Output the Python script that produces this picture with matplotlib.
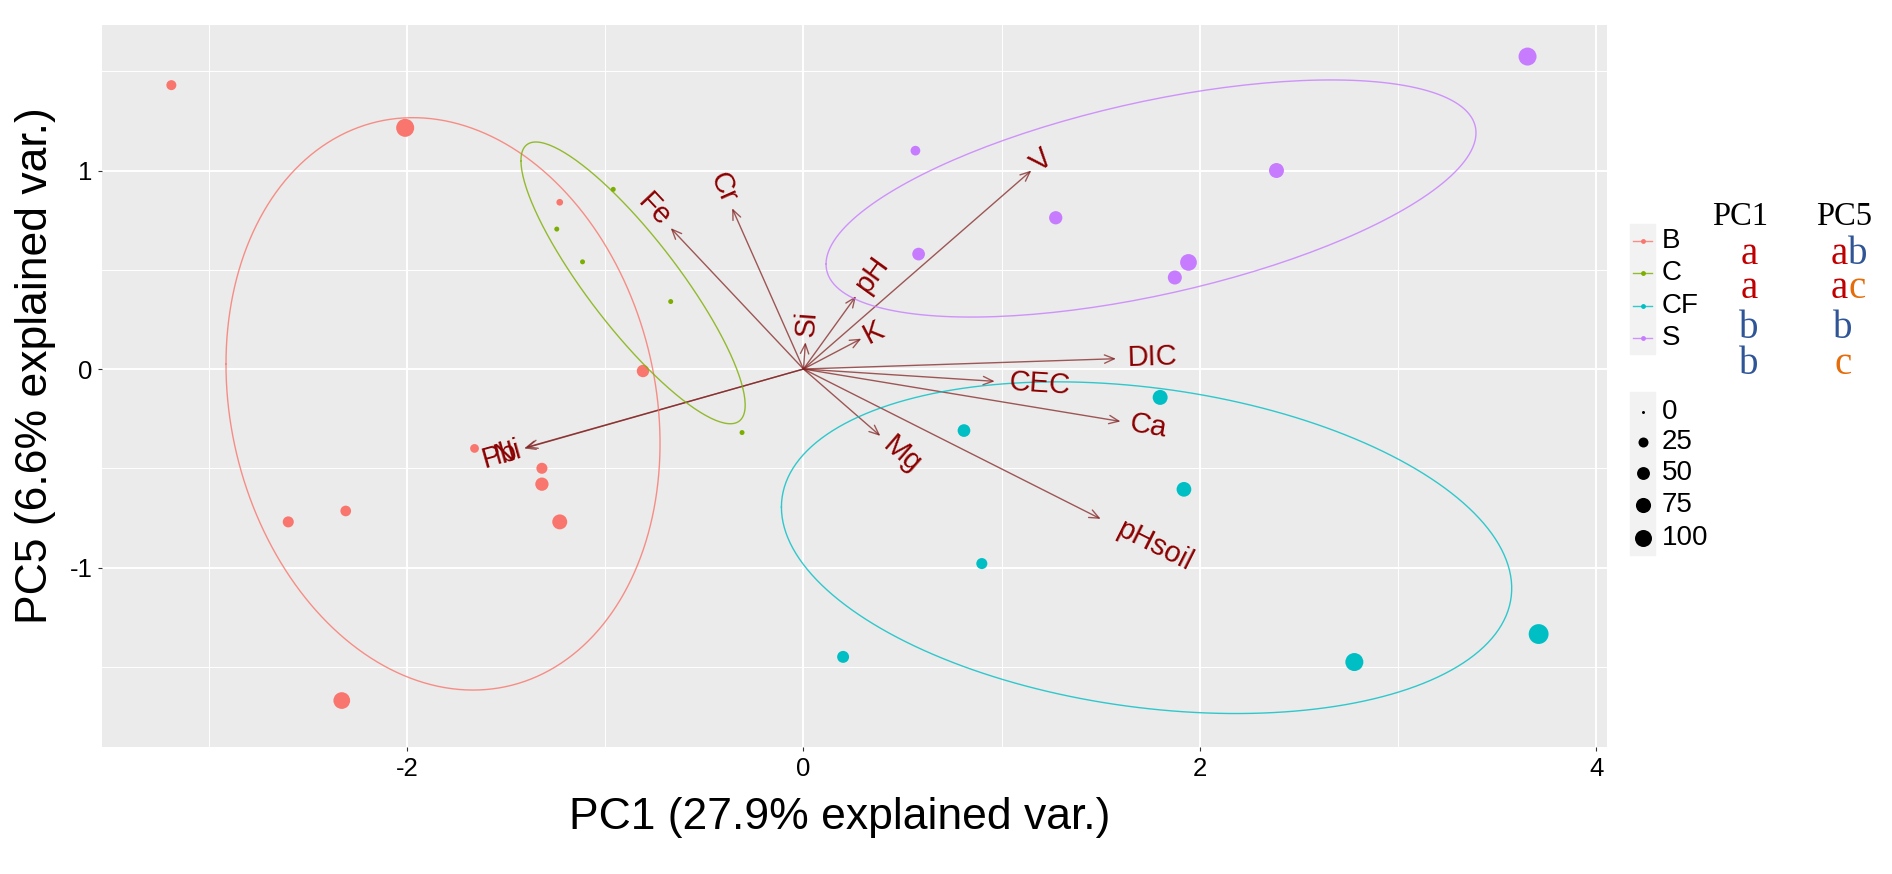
import numpy as np
import matplotlib
matplotlib.use("Agg")
import matplotlib.pyplot as plt
from matplotlib.lines import Line2D
from matplotlib.patches import Rectangle
from matplotlib.textpath import TextPath
from matplotlib.font_manager import FontProperties

plt.rcParams['font.family'] = ['Liberation Sans', 'DejaVu Sans']
plt.rcParams['axes.unicode_minus'] = False

# ---- scores (PC1, PC5) per group, and size variable ----
groups = ['B', 'C', 'CF', 'S']
colors = ['#F8766D', '#7CAE00', '#00BFC4', '#C77CFF']

b_x = [-3.19, -2.01, -2.60, -2.31, -2.33, -1.23, -0.81, -1.66, -1.32, -1.32, -1.23]
b_y = [1.43, 1.215, -0.77, -0.715, -1.67, 0.84, -0.01, -0.40, -0.50, -0.58, -0.77]
b_size = [25, 115, 33, 30, 96, 7, 45, 17, 33, 54, 73]

c_x = [-0.96, -1.245, -1.115, -0.67, -0.31]
c_y = [0.905, 0.705, 0.54, 0.34, -0.32]
c_size = [2, 2, 2, 2, 2]

cf_x = [1.80, 0.81, 1.92, 0.90, 0.20, 2.78, 3.71]
cf_y = [-0.143, -0.31, -0.606, -0.98, -1.45, -1.476, -1.335]
cf_size = [73, 48, 70, 33, 41, 115, 145]

s_x = [3.654, 0.565, 2.387, 1.273, 0.581, 1.943, 1.874]
s_y = [1.574, 1.10, 1.0, 0.762, 0.579, 0.537, 0.461]
s_size = [115, 23, 73, 54, 48, 96, 62]

# ---- loadings (arrow ends) ----
var_names = ['Cr', 'Fe', 'Si', 'pH', 'K', 'V', 'DIC', 'CEC', 'Ca', 'Mg', 'pHsoil', 'Pb', 'Ni']
var_x = [-0.36, -0.67, 0.01, 0.265, 0.292, 1.15, 1.577, 0.965, 1.60, 0.388, 1.50, -1.41, -1.40]
var_y = [0.81, 0.71, 0.135, 0.367, 0.153, 1.0, 0.052, -0.062, -0.264, -0.337, -0.755, -0.40, -0.395]

size_breaks = [0, 25, 50, 75, 100]

# group letters (text block on the right)
pc1_letters = ['a', 'a', 'b', 'b']
pc5_letters = [['a', 'b'], ['a', 'c'], ['b'], ['c']]
letter_colors = {'a': '#C00000', 'b': '#2F5597', 'c': '#E46C0A'}

xs = [b_x, c_x, cf_x, s_x]
ys = [b_y, c_y, cf_y, s_y]
sizes = [b_size, c_size, cf_size, s_size]

W, H = 1892, 874
fig = plt.figure(figsize=(W / 100, H / 100), dpi=100)

def fx(px):
    return px / W

def fy(py):
    return 1 - py / H

def diam_px(v):
    return 3 + 14 * np.sqrt(np.asarray(v, float) / 100)

def area(v):
    # scatter size in points^2 from diameter in px (dpi 100)
    return (diam_px(v) * 0.72) ** 2

ax = fig.add_axes([fx(102), fy(747), (1607 - 102) / W, (747 - 25) / H])
ax.set_facecolor('#EBEBEB')
ax.set_xlim(-3.54, 4.055)
ax.set_ylim(-1.904, 1.733)
ax.set_xticks([-2, 0, 2, 4])
ax.set_yticks([-1, 0, 1])
ax.set_xticks([-3, -1, 1, 3], minor=True)
ax.set_yticks([-1.5, -0.5, 0.5, 1.5], minor=True)
ax.grid(True, which='major', color='white', lw=1.4)
ax.grid(True, which='minor', color='white', lw=0.7)
ax.set_axisbelow(True)
for sp in ax.spines.values():
    sp.set_visible(False)
ax.tick_params(which='major', length=3, width=0.8, color='#333333', labelsize=18.5,
               labelcolor='black', pad=4)
ax.tick_params(which='minor', length=0)

# arrows
for name, vx, vy in zip(var_names, var_x, var_y):
    ax.annotate('', xy=(vx, vy), xytext=(0, 0),
                arrowprops=dict(arrowstyle='->,head_length=0.7,head_width=0.3',
                                color='#832424', alpha=0.75, lw=1.0,
                                shrinkA=0, shrinkB=0), zorder=2)

# points
for g, col, x, y, s in zip(groups, colors, xs, ys, sizes):
    ax.scatter(x, y, s=area(s), color=col, edgecolors='none', zorder=3)

# normal-data ellipses (68%), as ggbiplot computes them
ed = np.sqrt(-2 * np.log(1 - 0.68))
t = np.linspace(-np.pi, np.pi, 200)
circle = np.column_stack([np.cos(t), np.sin(t)])
for col, x, y in zip(colors, xs, ys):
    pts = np.column_stack([x, y])
    mu = pts.mean(axis=0)
    sigma = np.cov(pts.T)
    U = np.linalg.cholesky(sigma).T
    ell = circle @ U * ed + mu
    ax.plot(ell[:, 0], ell[:, 1], color=col, lw=1.0, alpha=0.8, zorder=4)

# variable labels
lab_fs = 21
fp = FontProperties(family='Liberation Sans')
for name, vx, vy in zip(var_names, var_x, var_y):
    ang = np.degrees(np.arctan(vy / vx))
    w = TextPath((0, 0), name, size=lab_fs, prop=fp).get_extents().width
    d = np.array([np.cos(np.radians(ang)), np.sin(np.radians(ang))])
    off = np.sign(vx) * 0.25 * w * d
    ax.annotate(name, xy=(vx, vy), xytext=(off[0], off[1]), textcoords='offset points',
                rotation=ang, rotation_mode='anchor',
                ha='left' if vx > 0 else 'right', va='center',
                color='#8B0000', fontsize=lab_fs, zorder=5)

# axis titles
fig.text(fx(840), fy(818), 'PC1 (27.9% explained var.)', ha='center', va='center', fontsize=32)
fig.text(fx(36), fy(366), 'PC5 (6.6% explained var.)', ha='center', va='center',
         rotation=90, fontsize=32)

# colour legend
fig.patches.append(Rectangle((fx(1630), fy(354)), 25 / W, 130 / H,
                             transform=fig.transFigure, color='#F2F2F2', zorder=0))
rows = [241, 273, 306, 338]
for g, col, ry in zip(groups, colors, rows):
    fig.add_artist(Line2D([fx(1633), fx(1652)], [fy(ry), fy(ry)], color=col, lw=1.0,
                          alpha=0.8, transform=fig.transFigure))
    fig.add_artist(Line2D([fx(1642.5)], [fy(ry)], marker='o', markersize=3.5, color=col,
                          markeredgewidth=0, transform=fig.transFigure))
    fig.text(fx(1662), fy(ry), g, ha='left', va='center', fontsize=20)

# size legend
fig.patches.append(Rectangle((fx(1630), fy(555)), 25 / W, 163 / H,
                             transform=fig.transFigure, color='#F2F2F2', zorder=0))
srows = [412, 442, 473, 505, 538]
for v, ry in zip(size_breaks, srows):
    fig.add_artist(Line2D([fx(1642.5)], [fy(ry)], marker='o',
                          markersize=float(diam_px(v)) * 0.72, color='black',
                          markeredgewidth=0, transform=fig.transFigure))
    fig.text(fx(1662), fy(ry), str(v), ha='left', va='center', fontsize=20)

# PC1 / PC5 letters
serif = ['Liberation Serif', 'DejaVu Serif']
fig.text(fx(1740), fy(225), 'PC1', ha='center', va='baseline', fontsize=23.5, family=serif)
fig.text(fx(1844), fy(225), 'PC5', ha='center', va='baseline', fontsize=23.5, family=serif)
baselines = [264, 298, 338, 374]
for l1, l5, by in zip(pc1_letters, pc5_letters, baselines):
    fig.text(fx(1749), fy(by), l1, ha='center', va='baseline', fontsize=28,
             family=serif, color=letter_colors[l1])
    if len(l5) == 1:
        fig.text(fx(1843), fy(by), l5[0], ha='center', va='baseline', fontsize=28,
                 family=serif, color=letter_colors[l5[0]])
    else:
        fig.text(fx(1848), fy(by), l5[0], ha='right', va='baseline', fontsize=28,
                 family=serif, color=letter_colors[l5[0]])
        fig.text(fx(1848), fy(by), l5[1], ha='left', va='baseline', fontsize=28,
                 family=serif, color=letter_colors[l5[1]])

fig.savefig('out.png', dpi=100, facecolor='white')
